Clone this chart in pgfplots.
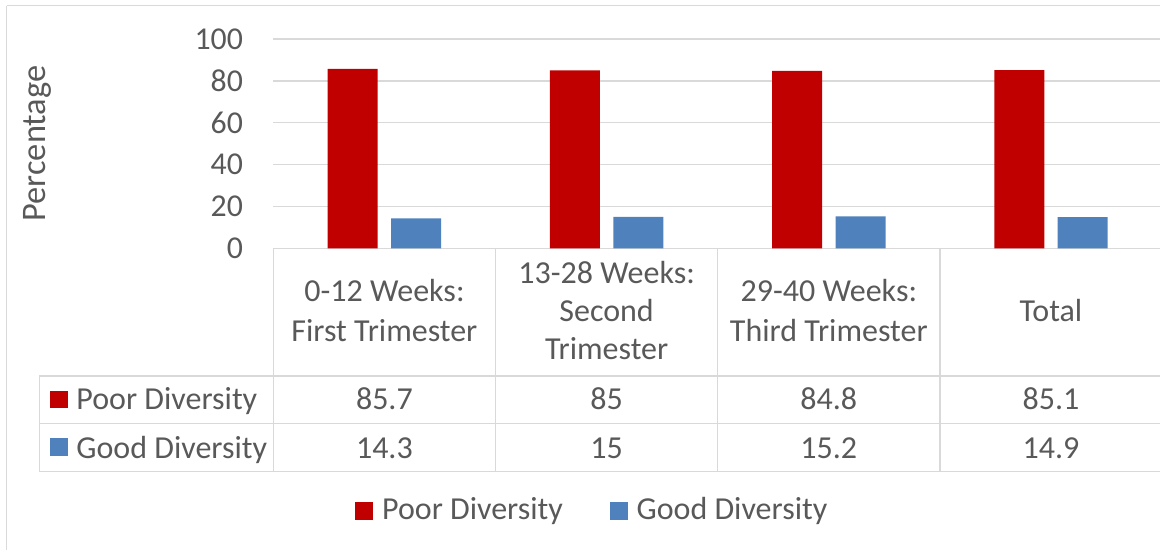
\documentclass[border=0pt]{standalone}
\usepackage{pgfplots}
\pgfplotsset{compat=1.18}
\usepackage{pgfplotstable}
\usepackage{fontspec}
\setmainfont{Carlito}
\definecolor{txt}{HTML}{595959}
\definecolor{gridc}{HTML}{D9D9D9}
\definecolor{poor}{HTML}{C00000}
\definecolor{good}{HTML}{4F81BD}

\pgfplotstableread{
x poor good
0 85.7 14.3
1 85 15
2 84.8 15.2
3 85.1 14.9
}\datatable

\begin{document}
\fontsize{16}{20}\selectfont
\begin{tikzpicture}[font=\fontsize{16}{20}\selectfont]
\useasboundingbox (0,0) rectangle (580pt,275pt);
\begin{axis}[
  at={(136.65pt,150.85pt)}, anchor=south west,
  scale only axis, width=444.4pt, height=104.65pt,
  xmin=-0.5, xmax=3.5, ymin=0, ymax=100,
  ybar=6.7pt, bar width=25pt,
  axis line style={draw=none},
  ytick={0,20,...,100}, xtick=\empty,
  ymajorgrids, grid style={gridc, line width=0.65pt},
  major tick length=0pt,
  yticklabel style={text=txt, anchor=east, inner sep=0pt, xshift=-15pt, font=\fontsize{15.9}{20}\selectfont},
  /pgf/number format/assume math mode=true,
  clip=false,
  legend columns=2,
  legend style={draw=none, fill=none, inner sep=0pt,
    at={(0.0919,-1.255)}, anchor=west,
    nodes={inner sep=0pt, text=txt, font=\fontsize{16}{20}\selectfont},
    /tikz/every odd column/.append style={column sep=4.5pt},
    /tikz/every even column/.append style={column sep=23.5pt}},
  legend image code/.code={\fill[#1] (0pt,-4.45pt) rectangle (8.85pt,4.45pt);},
]
\addplot[fill=poor, draw=none] table[x=x,y=poor]{\datatable};
\addlegendentry{Poor Diversity}
\addplot[fill=good, draw=none] table[x=x,y=good]{\datatable};
\addlegendentry{Good Diversity}
\end{axis}
\begin{scope}[x=0.5pt, y=-0.5pt, yshift=275pt]
\draw[gridc, line width=0.65pt] (6.7,5.7) -- (1175,5.7);
\draw[gridc, line width=0.65pt] (6.7,5.7) -- (6.7,560);
% table grid
\foreach \xx in {273.3,495.5,717.7,940}
  \draw[gridc, line width=0.65pt] (\xx,248.3) -- (\xx,471.7);
\foreach \yy in {376,423.3,471.7}
  \draw[gridc, line width=0.65pt] (39.3,\yy) -- (1175,\yy);
\draw[gridc, line width=0.65pt] (39.3,376) -- (39.3,471.7);
% header
\begin{scope}[every node/.style={text=txt, anchor=base, inner sep=0pt}]
\node at (384.4,301.7) {0-12 Weeks:};
\node at (384.4,341.7) {First Trimester};
\node at (606.6,283.3) {13-28 Weeks:};
\node at (606.6,321.7) {Second};
\node at (606.6,360) {Trimester};
\node at (828.8,301.7) {29-40 Weeks:};
\node at (828.8,341.7) {Third Trimester};
\node at (1051,321.7) {Total};
% values
\node at (384.4,410) {85.7};
\node at (606.6,410) {85};
\node at (828.8,410) {84.8};
\node at (1051,410) {85.1};
\node at (384.4,458.3) {14.3};
\node at (606.6,458.3) {15};
\node at (828.8,458.3) {15.2};
\node at (1051,458.3) {14.9};
\node[anchor=base west] at (76,410) {Poor Diversity};
\node[anchor=base west] at (76,458.3) {Good Diversity};
\node[rotate=90, font=\fontsize{17.2}{20}\selectfont] at (45,143.5) {Percentage};
\end{scope}
\fill[poor] (50,390.7) rectangle (68,407.7);
\fill[good] (50,438.3) rectangle (68,455.7);
\end{scope}
\end{tikzpicture}
\end{document}
